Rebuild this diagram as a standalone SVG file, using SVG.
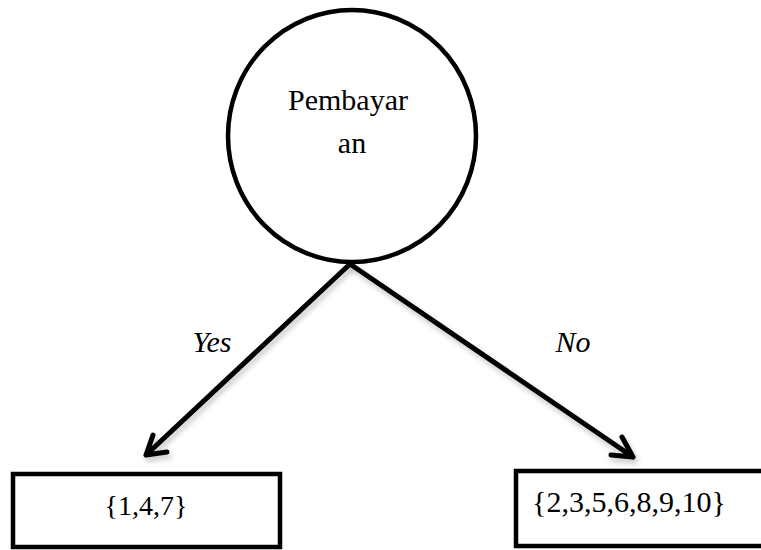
<svg xmlns="http://www.w3.org/2000/svg" width="761" height="550" viewBox="0 0 761 550">
<defs>
<style>
.shape{fill:#fff;stroke:#000;stroke-width:4.5}
text{font-family:'Liberation Serif','DejaVu Serif',serif;font-size:30px;fill:#000;text-anchor:middle}
.i{font-style:italic}
.b{font-size:28px}
.c{fill:none;stroke:#000;stroke-width:5;stroke-linecap:round;stroke-linejoin:round}
.sh{fill:none;stroke:#000;stroke-opacity:0.18;stroke-width:6;stroke-linecap:round;stroke-linejoin:round}
</style>
<filter id="blur" x="-20%" y="-20%" width="140%" height="140%"><feGaussianBlur stdDeviation="2.5"/></filter>
</defs>
<g id="connectors">
<g filter="url(#blur)" transform="translate(2,4)">
<path class="sh" d="M350 264 L146 455 M153 435 L146 455 L167 452"/>
<path class="sh" d="M350 264 L633 457 M622 437 L633 457 L611 455"/>
</g>
<path class="c" d="M350 264 L146 455 M153 435 L146 455 L167 452"/>
<path class="c" d="M350 264 L633 457 M622 437 L633 457 L611 455"/>
<text class="i" x="212" y="352">Yes</text>
<text class="i" x="573" y="352">No</text>
</g>
<g id="node-root">
<ellipse class="shape" cx="352" cy="136" rx="124" ry="126"/>
<text x="348" y="110">Pembayar</text>
<text x="352" y="153">an</text>
</g>
<g id="node-yes">
<rect class="shape" x="13" y="474" width="267" height="73"/>
<text class="b" x="146" y="515">{1,4,7}</text>
</g>
<g id="node-no">
<rect class="shape" x="516" y="471" width="250" height="75"/>
<text x="629" y="512">{2,3,5,6,8,9,10}</text>
</g>
</svg>
